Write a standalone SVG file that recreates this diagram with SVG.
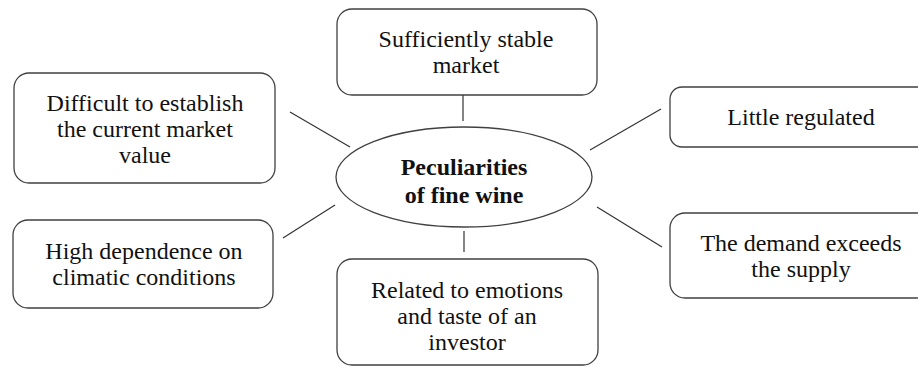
<svg xmlns="http://www.w3.org/2000/svg" width="918" height="367" viewBox="0 0 918 367">
<style>
.box{fill:#fff;stroke:#404040;stroke-width:1.3}
.t{font-family:"Liberation Serif","Times New Roman",serif;font-size:24px;fill:#111;text-anchor:middle}
.b{font-weight:bold}
.c{stroke:#333;stroke-width:1.2;fill:none}
</style>
<rect width="918" height="367" fill="#fff"/>
<g id="connectors">
<line class="c" x1="463" y1="95" x2="463" y2="121"/>
<line class="c" x1="464" y1="231" x2="464" y2="252"/>
<line class="c" x1="290" y1="112" x2="350" y2="147"/>
<line class="c" x1="283" y1="238" x2="335" y2="205"/>
<line class="c" x1="590" y1="150" x2="661" y2="109"/>
<line class="c" x1="597" y1="207" x2="662" y2="247"/>
</g>
<g id="center">
<ellipse class="box" cx="464" cy="177" rx="128" ry="50"/>
<text class="t b" x="464" y="175">Peculiarities</text>
<text class="t b" x="464" y="203">of fine wine</text>
</g>
<g id="stable">
<rect class="box" x="337" y="9" width="260" height="86" rx="15"/>
<text class="t" x="466" y="47">Sufficiently stable</text>
<text class="t" x="466" y="73">market</text>
</g>
<g id="difficult">
<rect class="box" x="14" y="73" width="261" height="110" rx="15"/>
<text class="t" x="145" y="111">Difficult to establish</text>
<text class="t" x="145" y="137">the current market</text>
<text class="t" x="145" y="163">value</text>
</g>
<g id="regulated">
<rect class="box" x="670" y="87" width="262" height="60" rx="12"/>
<text class="t" x="801" y="125">Little regulated</text>
</g>
<g id="climatic">
<rect class="box" x="13" y="220" width="260" height="88" rx="15"/>
<text class="t" x="144" y="259">High dependence on</text>
<text class="t" x="144" y="285">climatic conditions</text>
</g>
<g id="emotions">
<rect class="box" x="337" y="259" width="261" height="106" rx="15"/>
<text class="t" x="467" y="298">Related to emotions</text>
<text class="t" x="467" y="324">and taste of an</text>
<text class="t" x="467" y="350">investor</text>
</g>
<g id="demand">
<rect class="box" x="670" y="213" width="262" height="85" rx="15"/>
<text class="t" x="801" y="251">The demand exceeds</text>
<text class="t" x="801" y="277">the supply</text>
</g>
</svg>
